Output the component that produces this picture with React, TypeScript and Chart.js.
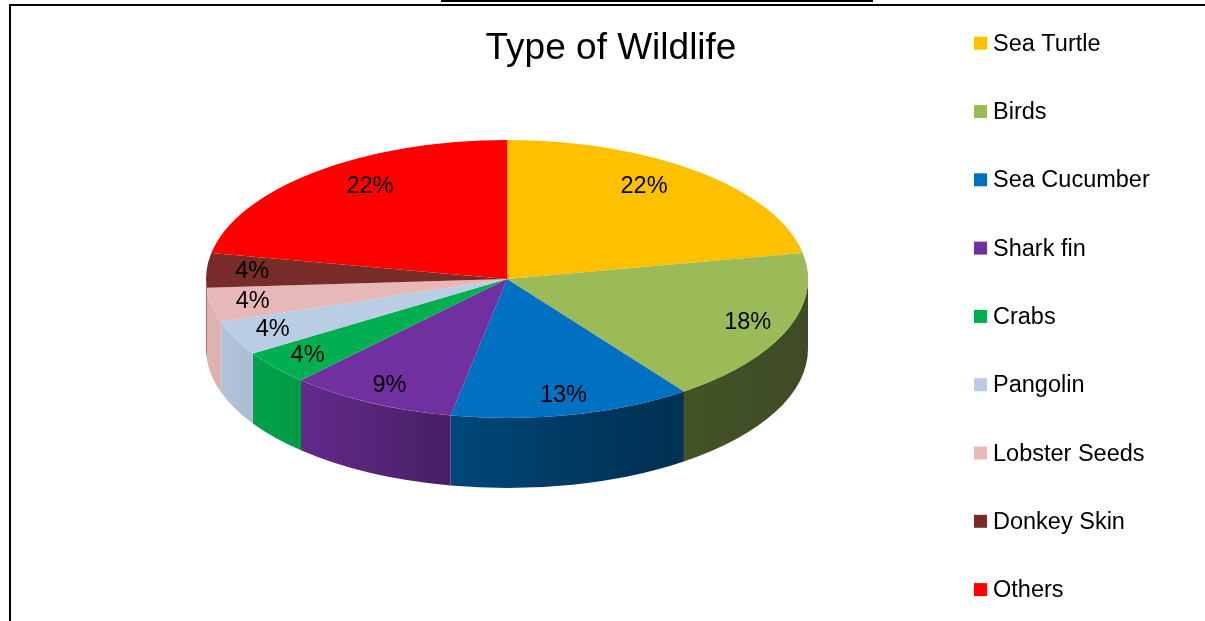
import React, { useEffect, useRef } from "react";
import { Chart, registerables } from "chart.js";
Chart.register(...registerables);

const categories = ["Sea Turtle", "Birds", "Sea Cucumber", "Shark fin", "Crabs", "Pangolin", "Lobster Seeds", "Donkey Skin", "Others"];
const percentages = [22, 18, 13, 9, 4, 4, 4, 4, 22];
const colors = ["#FFC000", "#9BBB59", "#0070C0", "#7030A0", "#00B050", "#B9CDE5", "#E6B9B8", "#772C2A", "#FF0000"];
const chartTitle = "Type of Wildlife";

const FONT = "'Liberation Sans', Arial, sans-serif";
const TILT = 139 / 301;
const TOP_CY = 279;
const DEPTH = 70;
const LABEL_R = 0.86;

function hexToRgb(h: string) {
  const n = parseInt(h.slice(1), 16);
  return [(n >> 16) & 255, (n >> 8) & 255, n & 255];
}
function shade(h: string, f: number) {
  const [r, g, b] = hexToRgb(h);
  return `rgb(${Math.round(r * f)},${Math.round(g * f)},${Math.round(b * f)})`;
}
const shadeStops: [number, number][] = [[0, 0.97], [0.15, 0.88], [0.4, 0.64], [0.7, 0.46], [1, 0.4]];

const pie3d = {
  id: "pie3d",
  beforeDraw(chart: any) {
    const ctx = chart.ctx;
    ctx.save();
    ctx.fillStyle = "#ffffff";
    ctx.fillRect(0, 0, chart.width, chart.height);
    ctx.fillStyle = "#000000";
    ctx.fillRect(9, 4, chart.width - 9, 2);
    ctx.fillRect(9, 4, 2, chart.height - 4);
    ctx.fillRect(441, 0, 432, 2);
    ctx.restore();
  },
  beforeDatasetsDraw(chart: any) {
    const arcs = chart.getDatasetMeta(0).data;
    if (!arcs.length) return;
    const ctx = chart.ctx;
    const { x: cx, y: cy, outerRadius: r } = arcs[0].getProps(["x", "y", "outerRadius"], true);
    const ry = r * TILT;
    ctx.save();
    arcs.forEach((arc: any, i: number) => {
      const p = arc.getProps(["startAngle", "endAngle"], true);
      const a1 = Math.max(p.startAngle, 0);
      const a2 = Math.min(p.endAngle, Math.PI);
      if (a2 <= a1) return;
      const g = ctx.createLinearGradient(cx - r, 0, cx + r, 0);
      shadeStops.forEach(([t, f]) => g.addColorStop(t, shade(colors[i], f)));
      ctx.beginPath();
      ctx.ellipse(cx, TOP_CY, r, ry, 0, a1, a2, false);
      ctx.ellipse(cx, TOP_CY + DEPTH, r, ry, 0, a2, a1, true);
      ctx.closePath();
      ctx.fillStyle = g;
      ctx.fill();
    });
    ctx.restore();
    ctx.save();
    ctx.translate(cx, TOP_CY);
    ctx.scale(1, TILT);
    ctx.translate(-cx, -cy);
  },
  afterDatasetsDraw(chart: any) {
    const ctx = chart.ctx;
    ctx.restore();
    const arcs = chart.getDatasetMeta(0).data;
    ctx.save();
    ctx.fillStyle = "#000000";
    ctx.font = `23.5px ${FONT}`;
    ctx.textAlign = "center";
    ctx.textBaseline = "middle";
    arcs.forEach((arc: any, i: number) => {
      const p = arc.getProps(["x", "startAngle", "endAngle", "outerRadius"], true);
      const mid = (p.startAngle + p.endAngle) / 2;
      const s = Math.sin(mid);
      const squeeze = 1 - 0.22 * Math.max(0, -s);
      const lx = p.x + Math.cos(mid) * p.outerRadius * LABEL_R * squeeze;
      const ly = TOP_CY + s * p.outerRadius * TILT * LABEL_R;
      ctx.fillText(`${percentages[i]}%`, lx, ly);
    });
    ctx.restore();
  },
  afterDraw(chart: any) {
    const ctx = chart.ctx;
    ctx.save();
    ctx.fillStyle = "#000000";
    ctx.font = `37px ${FONT}`;
    ctx.textAlign = "center";
    ctx.textBaseline = "alphabetic";
    ctx.fillText(chartTitle, 611, 59);
    ctx.font = `23.5px ${FONT}`;
    ctx.textAlign = "left";
    categories.forEach((c, i) => {
      const base = 50.7 + i * 68.3;
      ctx.fillStyle = colors[i];
      ctx.fillRect(974, base - 14, 13, 13);
      ctx.fillStyle = "#000000";
      ctx.fillText(c, 993, base);
    });
    ctx.restore();
  },
};

export default function App() {
  const ref = useRef<HTMLCanvasElement | null>(null);
  useEffect(() => {
    if (!ref.current) return;
    const chart = new Chart(ref.current, {
      type: "pie",
      data: {
        labels: categories,
        datasets: [{ data: percentages, backgroundColor: colors, borderWidth: 0, clip: false } as any],
      },
      options: {
        responsive: false,
        animation: false,
        devicePixelRatio: 1,
        layout: { padding: { left: 206, right: 397, top: 0, bottom: 19 } },
        plugins: { legend: { display: false }, tooltip: { enabled: false }, title: { display: false } },
      } as any,
      plugins: [pie3d],
    });
    return () => chart.destroy();
  }, []);
  return (
    <div style={{ position: "fixed", left: 0, top: 0, width: 1205, height: 621, overflow: "hidden", background: "#fff" }}>
      <canvas ref={ref} width={1205} height={621} style={{ display: "block", width: 1205, height: 621 }} />
    </div>
  );
}
